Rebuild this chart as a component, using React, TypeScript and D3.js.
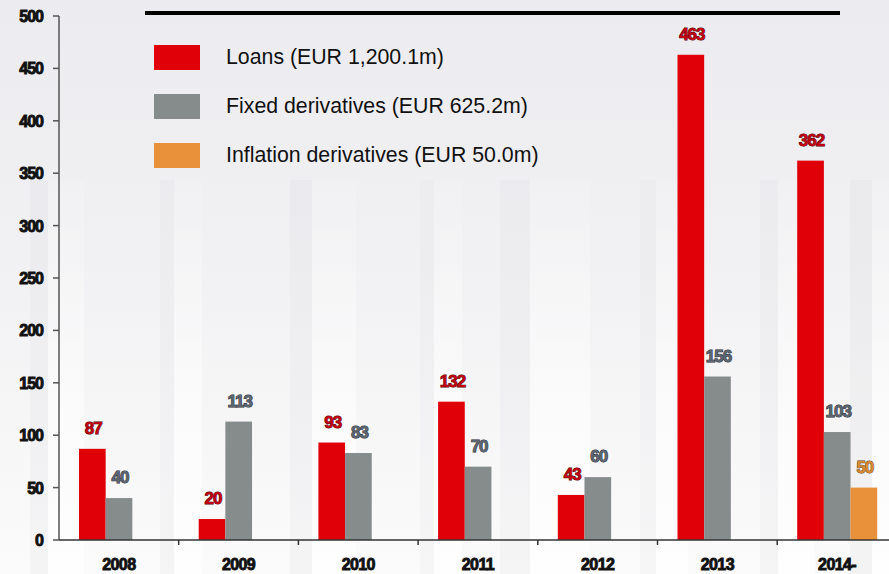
import React from "react";
import * as d3 from "d3";

const categories = ["2008", "2009", "2010", "2011", "2012", "2013", "2014-"];
const loans = [87, 20, 93, 132, 43, 463, 362];
const fixedDerivatives = [40, 113, 83, 70, 60, 156, 103];
const inflationDerivatives = [null, null, null, null, null, null, 50];
const yTicks = [0, 50, 100, 150, 200, 250, 300, 350, 400, 450, 500];
const legendLabels = [
  "Loans (EUR 1,200.1m)",
  "Fixed derivatives (EUR 625.2m)",
  "Inflation derivatives (EUR 50.0m)",
];

const W = 889;
const H = 574;

const series = [
  { key: "loans", values: loans, fill: "#e00008", text: "#c0000e", stroke: "#4a0006" },
  { key: "fixed", values: fixedDerivatives, fill: "#868b8c", text: "#5a6570", stroke: "#1e252c" },
  { key: "infl", values: inflationDerivatives, fill: "#e8913a", text: "#d88a30", stroke: "#5a3a10" },
];

const FONT = "Liberation Sans, Arial, sans-serif";

export default function App() {
  const left = 59;
  const y = d3.scaleLinear().domain([0, 500]).range([540, 16]);
  const x = d3.scaleBand<string>().domain(categories).range([left, left + 7 * 119.7]).paddingInner(0).paddingOuter(0);
  const inner = d3.scaleBand<string>().domain(series.map((s) => s.key)).range([20, 100]);

  const columns = [
    { x: 30, w: 18, o: 0.35 },
    { x: 160, w: 14, o: 0.3 },
    { x: 290, w: 22, o: 0.35 },
    { x: 420, w: 14, o: 0.25 },
    { x: 500, w: 30, o: 0.3 },
    { x: 640, w: 16, o: 0.25 },
    { x: 760, w: 18, o: 0.3 },
    { x: 850, w: 22, o: 0.4 },
  ];

  return (
    <svg width={W} height={H} style={{ position: "absolute", left: 0, top: 0 }}>
      <defs>
        <linearGradient id="bg" x1="0" y1="0" x2="0" y2="1">
          <stop offset="0" stopColor="#ececf0" />
          <stop offset="0.45" stopColor="#f1f1f3" />
          <stop offset="1" stopColor="#fbfbfb" />
        </linearGradient>
        <linearGradient id="col" x1="0" y1="0" x2="0" y2="1">
          <stop offset="0" stopColor="#ffffff" stopOpacity="0.1" />
          <stop offset="0.6" stopColor="#ffffff" stopOpacity="0.7" />
          <stop offset="1" stopColor="#ffffff" stopOpacity="0.9" />
        </linearGradient>
      </defs>
      <rect x={0} y={0} width={W} height={H} fill="url(#bg)" />
      {columns.map((c, i) => (
        <g key={i}>
          <rect x={c.x} y={180} width={c.w} height={H - 180} fill="#d8d8dc" opacity={c.o * 0.5} />
          <rect x={c.x + c.w} y={180} width={c.w * 2} height={H - 180} fill="url(#col)" opacity={0.8} />
        </g>
      ))}

      {/* top rule */}
      <line x1={145} x2={840} y1={13} y2={13} stroke="#000" strokeWidth={4} />

      {/* legend */}
      {legendLabels.map((l, i) => (
        <g key={l} transform={`translate(154, ${45 + i * 49})`}>
          <rect x={0} y={0} width={46} height={25} fill={series[i].fill} />
          <text x={72} y={19} fontFamily={FONT} fontSize={21.3} fill="#111">
            {l}
          </text>
        </g>
      ))}

      {/* bars */}
      {series.map((s) =>
        s.values.map((v, i) => {
          if (v == null) return null;
          const bx = (x(categories[i]) as number) + (inner(s.key) as number);
          const bw = inner.bandwidth();
          return (
            <g key={s.key + i}>
              <rect x={bx} y={y(v)} width={bw} height={y(0) - y(v)} fill={s.fill} />
              <text
                x={bx + bw / 2 + 1}
                y={y(v) - 15}
                textAnchor="middle"
                fontFamily={FONT}
                fontWeight="bold"
                fontSize={17}
                letterSpacing={-1}
                fill={s.text}
                stroke={s.stroke}
                strokeWidth={0.9}
                paintOrder="stroke"
              >
                {v}
              </text>
            </g>
          );
        })
      )}

      {/* y axis */}
      <line x1={left} x2={left} y1={y(500)} y2={y(0)} stroke="#555" strokeWidth={1.5} />
      {yTicks.map((t) => (
        <g key={t}>
          <line x1={left - 6} x2={left} y1={y(t)} y2={y(t)} stroke="#555" strokeWidth={1.5} />
          <text
            x={43}
            y={y(t) + 6}
            textAnchor="end"
            fontFamily={FONT}
            fontWeight="bold"
            fontSize={16}
            letterSpacing={-1}
            fill="#111"
            stroke="#111"
            strokeWidth={0.9}
          >
            {t}
          </text>
        </g>
      ))}

      {/* x axis */}
      <line x1={left} x2={W} y1={y(0)} y2={y(0)} stroke="#333" strokeWidth={1.5} />
      {categories.map((c, i) => (
        <g key={c}>
          {i > 0 && (
            <line x1={x(c) as number} x2={x(c) as number} y1={y(0)} y2={y(0) + 5} stroke="#333" strokeWidth={1.5} />
          )}
          <text
            x={(x(c) as number) + x.bandwidth() / 2}
            y={570}
            textAnchor="middle"
            fontFamily={FONT}
            fontWeight="bold"
            fontSize={16}
            letterSpacing={-0.6}
            fill="#111"
            stroke="#111"
            strokeWidth={0.9}
          >
            {c}
          </text>
        </g>
      ))}
    </svg>
  );
}
